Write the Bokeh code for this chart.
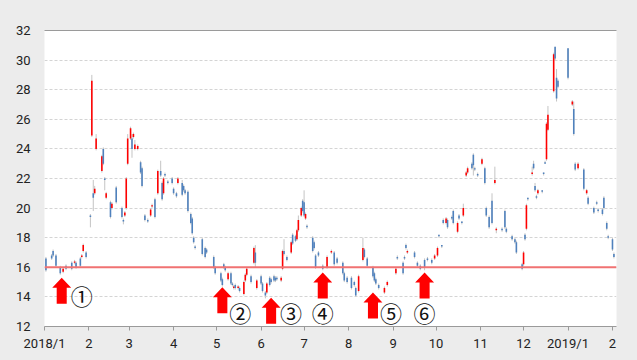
import numpy as np
import pandas as pd
from bokeh.plotting import figure
from bokeh.models import Range1d, FixedTicker, Span, LinearAxis, ColumnDataSource, GlobalInlineStyleSheet
from bokeh.core.properties import value
from bokeh.embed import file_html
from bokeh.resources import INLINE

# ---------------- data ----------------
dates = [
    "2018-01-02", "2018-01-06", "2018-01-07", "2018-01-09", "2018-01-12", "2018-01-14", "2018-01-16", "2018-01-20",
    "2018-01-22", "2018-01-23", "2018-01-26", "2018-01-27", "2018-01-28", "2018-01-30",
    "2018-02-02", "2018-02-03", "2018-02-04", "2018-02-05", "2018-02-06", "2018-02-10", "2018-02-11", "2018-02-12",
    "2018-02-13", "2018-02-16", "2018-02-17", "2018-02-20", "2018-02-24", "2018-02-25", "2018-02-26", "2018-02-27",
    "2018-02-28",
    "2018-03-02", "2018-03-03", "2018-03-04", "2018-03-05", "2018-03-07", "2018-03-09", "2018-03-10", "2018-03-12",
    "2018-03-14", "2018-03-16", "2018-03-17", "2018-03-19", "2018-03-21", "2018-03-23", "2018-03-24", "2018-03-25",
    "2018-03-26", "2018-03-28", "2018-03-31",
    "2018-04-01", "2018-04-03", "2018-04-04", "2018-04-07", "2018-04-08", "2018-04-09", "2018-04-11", "2018-04-13",
    "2018-04-14", "2018-04-15", "2018-04-16", "2018-04-21", "2018-04-23", "2018-04-24", "2018-04-29", "2018-04-30",
    "2018-05-04", "2018-05-05", "2018-05-06", "2018-05-07", "2018-05-09", "2018-05-11", "2018-05-12", "2018-05-13",
    "2018-05-14", "2018-05-16", "2018-05-17", "2018-05-20", "2018-05-21", "2018-05-22", "2018-05-25", "2018-05-27",
    "2018-05-28", "2018-05-29",
    "2018-06-01", "2018-06-02", "2018-06-04", "2018-06-05", "2018-06-07", "2018-06-08", "2018-06-10", "2018-06-11",
    "2018-06-12", "2018-06-15", "2018-06-16", "2018-06-17", "2018-06-19", "2018-06-22", "2018-06-23", "2018-06-25",
    "2018-06-26", "2018-06-27", "2018-06-29", "2018-06-30",
    "2018-07-01", "2018-07-02", "2018-07-03", "2018-07-07", "2018-07-08", "2018-07-09", "2018-07-11", "2018-07-14",
    "2018-07-17", "2018-07-20", "2018-07-22", "2018-07-24", "2018-07-28", "2018-07-29", "2018-07-31",
    "2018-08-03", "2018-08-05", "2018-08-06", "2018-08-08", "2018-08-11", "2018-08-12", "2018-08-14", "2018-08-18",
    "2018-08-19", "2018-08-20", "2018-08-22", "2018-08-26", "2018-08-28",
    "2018-09-03", "2018-09-04", "2018-09-08", "2018-09-09", "2018-09-10", "2018-09-11", "2018-09-16", "2018-09-18",
    "2018-09-20", "2018-09-23", "2018-09-25", "2018-09-28", "2018-09-30",
    "2018-10-02", "2018-10-03", "2018-10-05", "2018-10-06", "2018-10-08", "2018-10-09", "2018-10-12", "2018-10-13",
    "2018-10-16", "2018-10-17", "2018-10-19", "2018-10-20", "2018-10-22", "2018-10-23", "2018-10-26", "2018-10-27",
    "2018-10-28", "2018-10-30",
    "2018-11-02", "2018-11-04", "2018-11-05", "2018-11-07", "2018-11-09", "2018-11-11", "2018-11-12", "2018-11-16",
    "2018-11-18", "2018-11-19", "2018-11-23", "2018-11-25", "2018-11-26", "2018-11-30",
    "2018-12-01", "2018-12-02", "2018-12-03", "2018-12-04", "2018-12-07", "2018-12-08", "2018-12-09", "2018-12-10",
    "2018-12-11", "2018-12-14", "2018-12-15", "2018-12-16", "2018-12-17", "2018-12-18", "2018-12-22", "2018-12-23",
    "2018-12-24", "2018-12-25",
    "2019-01-01", "2019-01-04", "2019-01-05", "2019-01-06", "2019-01-08", "2019-01-12", "2019-01-14", "2019-01-15",
    "2019-01-19", "2019-01-21", "2019-01-22", "2019-01-25", "2019-01-26", "2019-01-28", "2019-01-29",
    "2019-02-01", "2019-02-02",
]
opens = [
    16.6, 16.8, 17.1, 16.8, 16.0, 15.7, 16.1, 16.3, 16.3, 16.3, 16.6, 16.7, 17.1, 17.0,
    19.5, 24.9, 21.0, 21.0, 24.0, 22.5, 24.0, 22.0, 20.7, 20.4, 20.0, 21.4, 20.0, 19.2, 19.5, 20.0, 23.0,
    24.7, 24.7, 24.8, 24.0, 24.0, 23.1, 22.7, 19.5, 19.2, 19.5, 20.1, 20.6, 21.0, 22.5, 21.7, 21.0, 22.3, 21.8, 22.0,
    21.3, 21.0, 21.7, 21.7, 21.5, 21.2, 21.1, 19.6, 19.3, 18.0, 17.4, 17.9, 17.3, 17.2, 16.7, 16.0,
    15.6, 15.2, 16.2, 16.0, 15.2, 15.6, 14.9, 14.6, 14.8, 14.6, 14.6, 14.2, 15.1, 15.5, 15.4, 16.3, 17.0, 14.6,
    15.4, 14.9, 14.3, 14.3, 15.3, 15.2, 15.4, 15.3, 15.3, 15.1, 15.9, 17.1, 16.7, 17.0, 18.2, 18.1, 17.9, 18.5,
    19.5, 20.5,
    20.4, 19.3, 18.8, 18.0, 17.7, 16.8, 17.0, 16.1, 16.0, 17.0, 17.0, 16.6, 16.3, 15.6, 15.3,
    15.3, 15.0, 14.6, 14.4, 16.5, 17.2, 16.6, 16.0, 15.6, 15.2, 14.8, 14.3, 14.8,
    15.6, 16.7, 16.3, 16.7, 17.5, 17.0, 17.0, 16.3, 16.1, 16.5, 16.6, 16.5, 16.6,
    16.8, 18.2, 17.5, 19.2, 19.0, 19.2, 19.4, 19.8, 18.4, 19.5, 19.1, 19.5, 22.2, 22.4, 23.0, 23.6, 22.7, 22.3,
    23.0, 22.7, 20.0, 19.4, 20.5, 21.7, 18.5, 18.6, 19.8, 18.6, 18.1, 17.9, 17.7, 16.2,
    16.2, 18.2, 18.6, 20.7, 22.3, 23.0, 21.5, 20.8, 21.0, 21.2, 22.4, 23.1, 23.3, 25.3, 27.9, 30.9, 28.8, 28.6,
    30.8, 27.0, 26.7, 23.0, 22.7, 22.6, 21.0, 20.7, 20.0, 20.4, 19.9, 19.9, 20.7, 19.0, 18.1,
    17.9, 16.9,
]
highs = [
    16.7, 16.9, 17.2, 16.9, 16.1, 16.0, 16.2, 16.4, 16.5, 16.4, 16.7, 16.9, 17.6, 17.1,
    19.6, 29.0, 21.9, 21.5, 25.0, 23.6, 24.1, 22.1, 21.1, 20.5, 20.4, 21.5, 20.1, 19.3, 19.8, 22.1, 25.0,
    25.5, 25.0, 25.1, 24.6, 24.3, 23.2, 22.8, 19.6, 19.3, 20.0, 20.3, 20.7, 22.6, 23.2, 21.8, 22.1, 22.4, 21.9, 22.1,
    21.4, 21.1, 22.1, 21.9, 21.6, 21.3, 21.2, 19.7, 19.4, 18.1, 17.5, 18.0, 17.4, 17.3, 16.8, 16.1,
    15.7, 15.3, 16.3, 16.1, 15.7, 15.7, 15.0, 14.8, 14.9, 14.8, 14.7, 15.1, 15.6, 16.0, 15.5, 17.4, 17.5, 15.2,
    15.5, 15.0, 14.4, 15.0, 15.4, 15.3, 15.5, 15.4, 15.4, 15.4, 17.2, 17.9, 16.8, 17.8, 18.3, 18.2, 18.6, 19.5,
    20.1, 20.6,
    21.2, 19.7, 18.9, 18.1, 17.8, 16.9, 17.1, 16.2, 16.8, 17.2, 17.1, 16.7, 16.4, 15.7, 15.4,
    15.4, 15.1, 14.7, 15.5, 18.0, 17.3, 16.7, 16.1, 15.7, 15.3, 14.9, 14.7, 15.1,
    16.0, 16.8, 16.4, 16.8, 17.6, 17.2, 17.1, 16.4, 16.2, 16.6, 16.7, 16.6, 16.9,
    17.4, 18.2, 17.5, 19.3, 19.4, 19.3, 19.5, 19.9, 19.1, 19.6, 19.1, 20.3, 22.5, 22.8, 23.1, 23.7, 22.8, 22.4,
    23.4, 22.8, 20.1, 19.5, 21.0, 22.8, 18.7, 18.7, 19.9, 18.7, 18.2, 18.0, 17.8, 16.3,
    17.1, 18.3, 20.3, 20.7, 22.8, 23.2, 21.7, 20.9, 21.3, 21.2, 22.4, 23.2, 25.8, 26.9, 30.5, 30.9, 29.4, 28.7,
    30.8, 27.3, 27.2, 23.1, 23.1, 22.7, 21.3, 20.8, 20.1, 20.5, 20.0, 20.0, 20.8, 19.1, 18.2,
    18.0, 17.0,
]
lows = [
    15.7, 16.5, 16.7, 16.0, 15.5, 15.6, 15.8, 15.8, 16.2, 15.9, 16.0, 16.6, 17.0, 16.6,
    18.7, 24.8, 19.8, 20.9, 23.9, 22.4, 22.9, 21.2, 20.6, 19.3, 19.9, 20.3, 19.3, 18.9, 19.4, 19.9, 22.9,
    24.6, 23.4, 24.7, 23.9, 23.9, 22.3, 21.4, 19.1, 19.0, 19.4, 20.0, 19.3, 20.9, 22.1, 20.5, 20.9, 22.1, 21.6, 21.6,
    20.9, 20.7, 21.6, 20.8, 21.1, 20.9, 19.7, 18.9, 18.2, 17.6, 17.2, 16.8, 16.6, 16.9, 15.9, 15.5,
    15.0, 14.7, 15.9, 15.7, 15.1, 14.8, 14.7, 14.5, 14.5, 14.5, 14.3, 14.1, 15.0, 15.4, 14.9, 16.2, 16.0, 14.5,
    14.8, 14.3, 13.9, 14.2, 14.7, 14.9, 15.0, 15.0, 15.1, 15.0, 15.8, 16.8, 16.4, 16.9, 17.5, 17.7, 17.8, 18.4,
    19.4, 19.7,
    19.4, 19.2, 18.6, 17.0, 17.2, 15.9, 16.7, 15.8, 15.9, 16.9, 16.1, 16.2, 15.5, 15.0, 14.9,
    14.5, 14.7, 14.0, 14.3, 16.4, 16.6, 16.0, 15.3, 15.0, 14.8, 14.5, 14.2, 14.7,
    15.5, 16.5, 15.5, 16.5, 17.2, 16.9, 16.6, 16.0, 15.8, 15.8, 16.4, 16.2, 16.5,
    16.7, 18.0, 17.3, 18.9, 18.9, 18.6, 19.2, 18.9, 18.3, 19.2, 18.9, 19.4, 22.1, 22.3, 22.6, 22.2, 22.5, 22.1,
    22.9, 21.6, 19.4, 18.6, 18.9, 21.6, 18.3, 18.4, 18.6, 18.3, 17.8, 17.6, 16.9, 15.8,
    16.1, 17.8, 18.5, 20.5, 22.2, 22.6, 21.1, 20.6, 20.9, 21.0, 22.2, 23.0, 23.2, 25.2, 27.8, 30.0, 27.2, 28.1,
    28.7, 26.9, 24.9, 22.5, 22.6, 21.2, 20.9, 20.2, 19.6, 20.2, 19.7, 19.5, 19.9, 18.5, 17.9,
    17.1, 16.6,
]
closes = [
    15.8, 16.6, 16.8, 16.1, 15.6, 15.9, 15.9, 15.9, 16.4, 16.0, 16.1, 16.8, 17.5, 16.7,
    19.4, 28.6, 20.7, 21.3, 24.7, 23.5, 23.0, 21.9, 21.0, 19.4, 20.3, 20.4, 19.4, 19.1, 19.7, 22.0, 24.7,
    25.4, 24.0, 25.0, 24.3, 24.2, 22.4, 21.5, 19.2, 19.1, 19.9, 20.2, 19.4, 22.5, 22.2, 20.6, 22.0, 22.2, 21.7, 21.7,
    21.0, 20.8, 22.0, 20.9, 21.2, 21.0, 19.8, 19.0, 18.3, 17.7, 17.3, 16.9, 16.7, 17.0, 16.0, 15.6,
    15.1, 14.8, 16.0, 15.8, 15.6, 14.9, 14.8, 14.7, 14.6, 14.7, 14.4, 15.0, 15.5, 15.9, 15.0, 17.3, 16.3, 15.1,
    14.9, 14.4, 14.1, 14.9, 14.8, 15.0, 15.1, 15.1, 15.2, 15.3, 17.1, 16.9, 16.5, 17.7, 17.6, 17.8, 18.5, 19.2,
    20.0, 19.8,
    19.5, 19.6, 18.7, 17.1, 17.3, 16.0, 16.8, 15.9, 16.7, 17.1, 16.2, 16.3, 15.6, 15.1, 15.0,
    14.6, 14.8, 14.1, 15.4, 17.3, 16.7, 16.1, 15.4, 15.1, 14.9, 14.6, 14.6, 15.0,
    15.9, 16.6, 15.6, 16.6, 17.3, 17.1, 16.7, 16.1, 15.9, 16.0, 16.5, 16.3, 16.8,
    17.3, 18.1, 17.4, 19.0, 19.3, 18.7, 19.3, 19.0, 19.0, 19.3, 19.0, 20.0, 22.4, 22.7, 22.7, 22.9, 22.6, 22.2,
    23.3, 21.7, 19.5, 18.7, 19.0, 21.9, 18.6, 18.5, 18.7, 18.4, 17.9, 17.7, 17.0, 15.9,
    17.0, 17.9, 20.2, 20.6, 22.4, 22.7, 21.2, 20.7, 21.2, 21.1, 22.3, 23.0, 25.7, 26.3, 30.4, 30.1, 27.4, 28.2,
    28.8, 27.2, 25.0, 22.6, 23.0, 21.3, 21.2, 20.3, 19.7, 20.3, 19.8, 19.6, 20.0, 18.6, 18.0,
    17.2, 16.7,
]

y_ticks = [12, 14, 16, 18, 20, 22, 24, 26, 28, 30, 32]
tick_dates = ["2018-01-01", "2018-02-01", "2018-03-01", "2018-04-01", "2018-05-01", "2018-06-01", "2018-07-01",
              "2018-08-01", "2018-09-01", "2018-10-01", "2018-11-01", "2018-12-01", "2019-01-01", "2019-02-01"]
tick_labels = ["2018/1", "2", "3", "4", "5", "6", "7", "8", "9", "10", "11", "12", "2019/1", "2"]

support_level = 16

arrow_dates = ["2018-01-13", "2018-05-05", "2018-06-08", "2018-07-14", "2018-08-18", "2018-09-23"]
arrow_tops = [15.3, 14.65, 13.95, 15.65, 14.3, 15.65]
marker_labels = ["①", "②", "③", "④", "⑤", "⑥"]
marker_levels = [14.15, 13.0, 13.0, 13.0, 13.0, 13.0]
marker_shift_px = [20, 18, 20, 0, 18, 0]

# ---------------- helpers ----------------
origin = pd.Timestamp("2018-01-01")


def day_num(ds):
    return ((pd.to_datetime(pd.Series(ds)) - origin) / pd.Timedelta(days=1)).to_numpy(dtype=float)


x = day_num(dates)
o = np.array(opens, dtype=float)
c = np.array(closes, dtype=float)
up = c >= o

src = ColumnDataSource(dict(
    x=x, top=np.maximum(o, c), bottom=np.minimum(o, c),
    high=np.array(highs, dtype=float), low=np.array(lows, dtype=float),
    color=np.where(up, "#ff0000", "#4f81bd"),
))

FONT = "Roboto"

p = figure(width=637, height=360, output_backend="svg", toolbar_location=None,
           x_range=Range1d(0, 398.8), y_range=Range1d(12, 32),
           min_border_left=44, min_border_right=21, min_border_top=30, min_border_bottom=34,
           background_fill_color="white", border_fill_color="#ececec", outline_line_color=None)
p.stylesheets = [GlobalInlineStyleSheet(css="html, body { background-color: #ececec; overflow: hidden; }")]

# y axis
p.yaxis.ticker = FixedTicker(ticks=y_ticks)
p.yaxis.axis_line_color = None
p.yaxis.major_tick_line_color = None
p.yaxis.minor_tick_line_color = None
p.yaxis.major_tick_out = 0
p.yaxis.major_tick_in = 0
p.yaxis.major_label_standoff = 14
p.yaxis.major_label_text_font = FONT
p.yaxis.major_label_text_font_size = "13px"
p.yaxis.major_label_text_color = "#222222"

# x axis
tick_x = [float(v) for v in day_num(tick_dates)]
p.xaxis.ticker = FixedTicker(ticks=tick_x)
p.xaxis.major_label_overrides = {tx: lab for tx, lab in zip(tick_x, tick_labels)}
p.xaxis.axis_line_color = "#9a9a9a"
p.xaxis.axis_line_width = 1
p.xaxis.major_tick_line_color = "#9a9a9a"
p.xaxis.major_tick_out = 4
p.xaxis.major_tick_in = 0
p.xaxis.minor_tick_line_color = None
p.xaxis.major_label_standoff = 5
p.xaxis.major_label_text_font = FONT
p.xaxis.major_label_text_font_size = "13px"
p.xaxis.major_label_text_color = "#222222"

# top border line
top_axis = LinearAxis(ticker=FixedTicker(ticks=[]), axis_line_color="#9a9a9a", axis_line_width=1,
                      major_tick_line_color=None, minor_tick_line_color=None,
                      major_tick_out=0, major_label_standoff=0)
p.add_layout(top_axis, "above")

# grid
p.xgrid.visible = False
p.ygrid.ticker = FixedTicker(ticks=y_ticks)
p.ygrid.grid_line_color = "#d4d4d4"
p.ygrid.grid_line_dash = "3 2"
p.ygrid.grid_line_width = 1

# candles
p.segment(x0="x", y0="low", x1="x", y1="high", source=src, line_color="#c4c4c4", line_width=1)
p.vbar(x="x", width=1.1, top="top", bottom="bottom", fill_color="color", line_color=None, source=src)

# support line
p.add_layout(Span(location=support_level, dimension="width", line_color="#f07272", line_width=2))

# arrows
ax_x = day_num(arrow_dates)
head_half, shaft_half = 6.6, 3.5      # days
head_h, total_h = 0.68, 1.76          # price units
xs, ys = [], []
for xc, tp in zip(ax_x, arrow_tops):
    xs.append([xc - shaft_half, xc - shaft_half, xc - head_half, xc, xc + head_half, xc + shaft_half, xc + shaft_half])
    ys.append([tp - total_h, tp - head_h, tp - head_h, tp, tp - head_h, tp - head_h, tp - total_h])
p.patches(xs=xs, ys=ys, fill_color="#ff0000", line_color=None)

p.text(x=list(ax_x), y=marker_levels, text=marker_labels, x_offset=marker_shift_px,
       text_align="center", text_baseline="middle",
       text_font=value("Noto Sans CJK JP"), text_font_size="22px", text_color="#111111")

open("out.html", "w").write(file_html(p, INLINE))
